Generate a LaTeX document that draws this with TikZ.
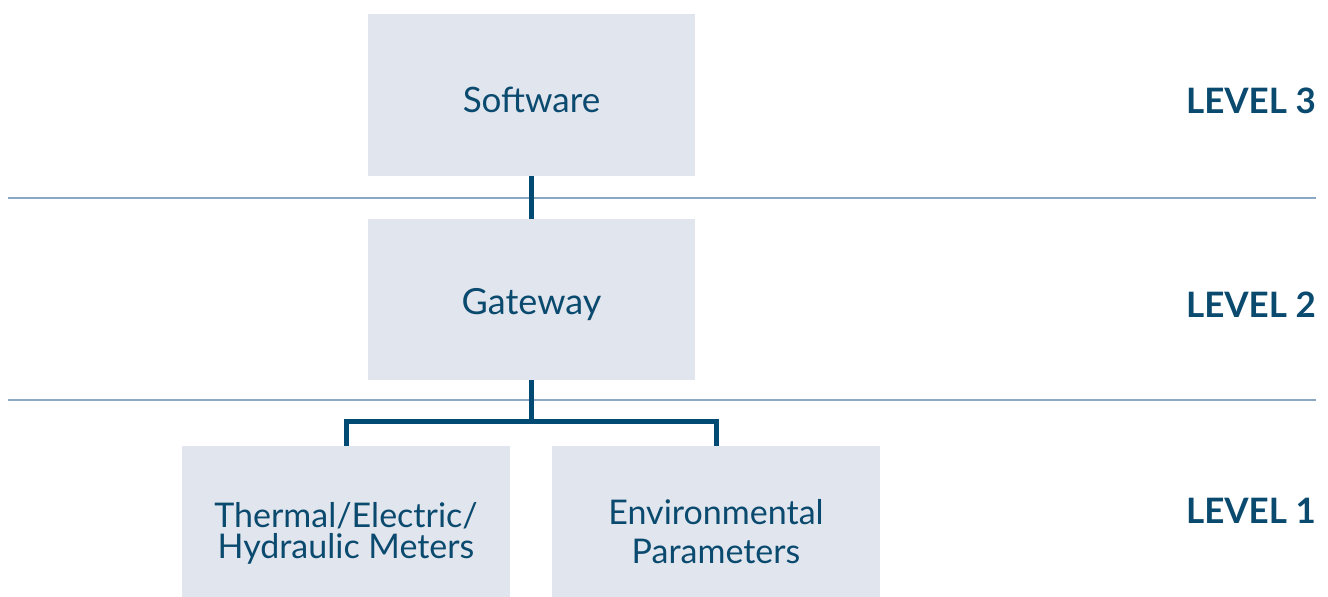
\documentclass[tikz,border=0pt]{standalone}
\usepackage{fontspec}
\setmainfont{Lato}
\definecolor{boxfill}{HTML}{E1E5ED}
\definecolor{txt}{HTML}{0B4A6F}
\definecolor{conn}{HTML}{004A73}
\definecolor{rule}{HTML}{8AA8C3}
\begin{document}
\begin{tikzpicture}[x=1pt,y=-1pt,
  box/.style={fill=boxfill,draw=none,minimum width=327pt,inner sep=0pt},
  boxtext/.style={text=txt,inner sep=0pt,align=center,font=\fontsize{35}{31}\selectfont},
  lvl/.style={anchor=east,text=txt,font=\fontsize{35}{30}\selectfont\bfseries,inner sep=0pt},
  conline/.style={draw=conn,line width=5pt},
  ruleline/.style={draw=rule,line width=2.5pt}]
\useasboundingbox (0,0) rectangle (1328,597);
\draw[ruleline] (8,198) coordinate (r1a) -- (1316,198) coordinate (r1b);
\draw[ruleline] (8,400) coordinate (r2a) -- (1316,400) coordinate (r2b);
\node[box,minimum height=162pt] (sw) at (531.5,95) {};
\node[box,minimum height=161pt] (gw) at (531.5,299.5) {};
\node[box,minimum width=328pt,minimum height=151pt] (tm) at (346,521.5) {};
\node[box,minimum width=328pt,minimum height=151pt] (ep) at (716,521.5) {};
\node[boxtext] (swt) at (531.5,100) {Software};
\node[boxtext,font=\fontsize{36}{31}\selectfont] (gwt) at (531.5,305) {Gateway};
\node[boxtext,font=\fontsize{34}{31}\selectfont] (tmt) at (346,533) {Thermal/Electric/\\Hydraulic Meters};
\node[boxtext,font=\fontsize{34}{39}\selectfont] (ept) at (716,532) {Environmental\\Parameters};
\draw[conline] (sw.south) -- (gw.north);
\coordinate (br) at (531.5,421);
\draw[conline] (gw.south) -- (br);
\draw[conline] (tm.north) -- (tm.north |- br) -- (ep.north |- br) -- (ep.north);
\node[lvl] (l3) at (1316,101) {LEVEL 3};
\node[lvl] (l2) at (1316,305) {LEVEL 2};
\node[lvl] (l1) at (1316,511) {LEVEL 1};
\end{tikzpicture}
\end{document}
